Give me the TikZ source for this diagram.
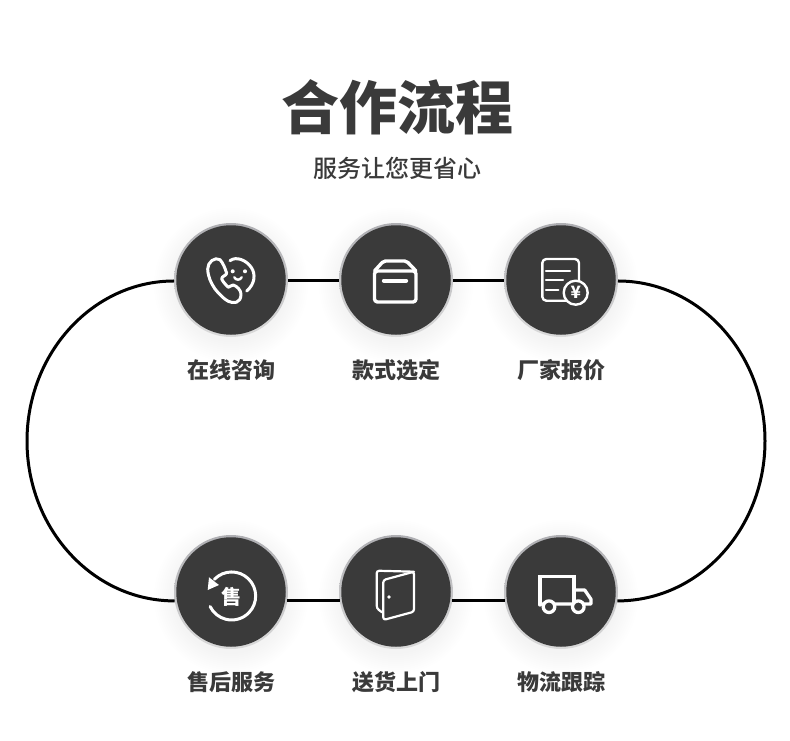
\documentclass[tikz,border=0pt]{standalone}
\usepackage{fontspec}
\setmainfont{Noto Sans CJK SC}
\newfontfamily\sedang{Noto Sans CJK SC Medium}
\usepackage{xcolor}
\usetikzlibrary{arrows.meta, positioning, calc}
\definecolor{gelap}{HTML}{3A3A3A}
\definecolor{cincinatas}{HTML}{AEAEB2}
\definecolor{cincinbawah}{HTML}{DADADA}

\begin{document}
\begin{tikzpicture}[
    x=1pt, y=-1pt,
    lingkar/.style={circle, fill=gelap, minimum size=109.5pt, inner sep=0pt, outer sep=2.25pt},
    garis/.style={line width=3pt, black},
    judul/.style={text=gelap, font=\fontsize{58}{60}\selectfont\bfseries},
    subjudul/.style={text=gelap, font=\fontsize{24}{28}\selectfont\sedang},
    teks/.style={text=gelap, font=\fontsize{22}{26}\selectfont\bfseries},
    ikon/.style={draw=white, line width=3pt, line cap=round, line join=round},
    ikontipis/.style={draw=white, line width=2.2pt, line cap=round, line join=round}
  ]
    \useasboundingbox (0,0) rectangle (790,741);

    \foreach \cx/\cy in {231/280, 396/280, 561/280, 231/592, 396/592, 561/592} {
      \foreach \r in {57,59,...,77}
        \fill[black, opacity=0.005] (\cx,\cy+5) circle[radius=\r];
      \shade[top color=cincinatas, bottom color=cincinbawah] (\cx,\cy) circle[radius=57];
    }

    \node[judul] (judulutama) at (397.5,107) {合作流程};
    \node[subjudul] (subutama) at (397,168) {服务让您更省心};

    \node[lingkar] (zixun) at (231,280) {};
    \node[lingkar] (xuanding) at (396,280) {};
    \node[lingkar] (baojia) at (561,280) {};
    \node[lingkar] (shouhou) at (231,592) {};
    \node[lingkar] (shangmen) at (396,592) {};
    \node[lingkar] (wuliu) at (561,592) {};

    \node[teks] (tzixun) at (231,370) {在线咨询};
    \node[teks] (txuanding) at (396,370) {款式选定};
    \node[teks] (tbaojia) at (561,370) {厂家报价};
    \node[teks] (tshouhou) at (231,682) {售后服务};
    \node[teks] (tshangmen) at (396,682) {送货上门};
    \node[teks] (twuliu) at (561,682) {物流跟踪};

    \coordinate (kiri) at (27,441);
    \coordinate (kanan) at (765,441);

    \draw[garis] (zixun.-1) -- (xuanding.181);
    \draw[garis] (xuanding.-1) -- (baojia.181);
    \draw[garis] (shouhou.-9) -- (shangmen.189);
    \draw[garis] (shangmen.-9) -- (wuliu.189);
    \draw[garis] (zixun.181) .. controls (93,281) and (27,353) .. (kiri)
                 .. controls (27,529) and (93,601) .. (shouhou.189);
    \draw[garis] (baojia.-1) .. controls (699,281) and (765,353) .. (kanan)
                 .. controls (765,529) and (699,601) .. (wuliu.-9);

    \begin{scope}[shift={(zixun.center)}]
      \draw[ikon] (-4.3,-6.7) .. controls (-6,-12) and (-8,-17) .. (-11,-20.3)
        .. controls (-16,-23.5) and (-23.5,-18) .. (-23.3,-11)
        .. controls (-23,-3) and (-20,3) .. (-16,9)
        .. controls (-11,15) and (-7,19) .. (-2.7,21.3)
        .. controls (2,23.5) and (10,24) .. (10,14)
        .. controls (10,10.5) and (6,6) .. (2.3,5)
        .. controls (0,5) and (-1,7) .. (-2.7,7.3)
        .. controls (-5,5) and (-8,2) .. (-9.3,-1)
        .. controls (-9.5,-4) and (-5,-4) .. (-4.3,-6.7);
      \draw[ikon] (-1,-19.3) .. controls (5,-24) and (15,-20) .. (20,-13)
        .. controls (25,-6) and (24,4) .. (15.7,11);
      \fill[white] (1.7,-8.7) circle[radius=2] (14,-8.7) circle[radius=2];
      \draw[ikon, line width=2.4pt] (3.3,-2.7) .. controls (5,0.5) and (9,0.5) .. (10.7,-2.7);
    \end{scope}

    \begin{scope}[shift={(xuanding.center)}]
      \draw[ikon, line width=3.4pt, rounded corners=3pt] (-21.5,-9) rectangle (20,22);
      \draw[ikon, line width=3.4pt, rounded corners=2pt] (-21.5,-9) -- (-12.5,-19) -- (10.5,-19) -- (20,-9);
      \draw[white, line width=4.4pt, line cap=round] (-12,0.7) -- (10,0.7);
    \end{scope}

    \begin{scope}[shift={(baojia.center)}]
      \draw[ikontipis, line width=2.4pt, rounded corners=4pt] (-18.7,-21) rectangle (18,20.7);
      \draw[ikontipis, line width=2.4pt] (-15,-9.3) -- (9,-9.3) (-15,-0.3) -- (2,-0.3) (-15,9.7) -- (-2.7,9.7);
      \draw[ikontipis, line width=2.4pt, fill=gelap] (14.7,12.7) circle[radius=12];
      \node[white, font=\fontsize{17}{17}\selectfont\bfseries, inner sep=0pt] (yen) at (14.7,12.7) {¥};
    \end{scope}

    \begin{scope}[shift={(shouhou.center)}]
      \draw[ikon] (-16.6,-12.7) arc[start angle=-136, end angle=154, radius=24];
      \fill[white] (-22,-14.7) -- (-12,-7) -- (-23.3,-2) -- cycle;
      \node[white, font=\fontsize{20}{20}\selectfont\bfseries, inner sep=0pt] (shou) at (0.5,5) {售};
    \end{scope}

    \begin{scope}[shift={(shangmen.center)}]
      \draw[ikontipis, rounded corners=2.5pt] (18,-20.3) -- (-19.3,-21.3) -- (-19.3,16.3) -- (-14,20.3);
      \draw[ikontipis, rounded corners=2.5pt] (-12.7,-12) -- (18,-20.3) -- (18,19.7) -- (-12.7,28) -- cycle;
      \fill[white] (-7,5) circle[radius=1.8];
    \end{scope}

    \begin{scope}[shift={(wuliu.center)}]
      \draw[ikon, line width=3.3pt, line join=miter] (-21,13) -- (-21,-15.3) -- (13,-15.3) -- (13,12);
      \draw[ikon, line width=3.3pt] (-21,12) -- (30,12) -- (30,7.3) -- (23.7,-2) -- (13,-2);
      \draw[ikon, line width=3.3pt, fill=gelap] (-12,14.7) circle[radius=5.8] (17.3,14.7) circle[radius=5.8];
    \end{scope}
  \end{tikzpicture}
\end{document}
